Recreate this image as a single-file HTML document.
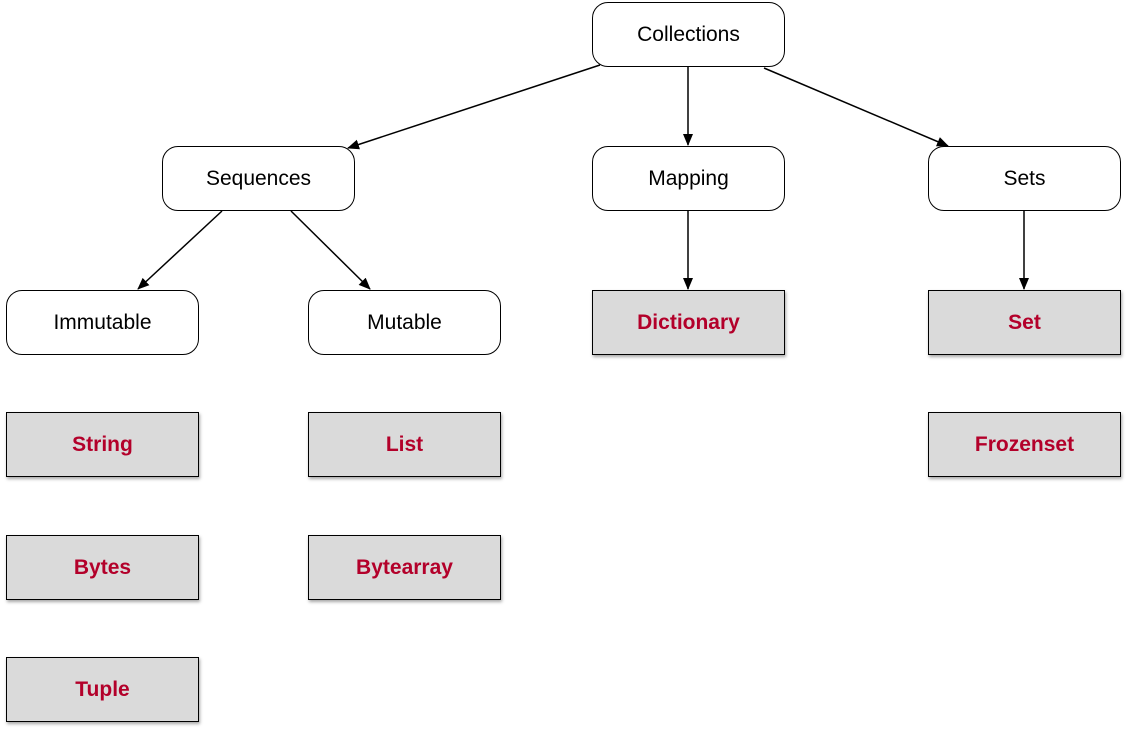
<!DOCTYPE html>
<html><head><style>
body{margin:0;width:1126px;height:730px;background:#fff;position:relative;overflow:hidden;font-family:"Liberation Sans",sans-serif}
.n{position:absolute;width:190px;height:62px;border:1.5px solid #000;display:flex;align-items:center;justify-content:center;font-size:21px;box-sizing:border-box}
.r{border-radius:16px;background:#fff;color:#000}
.s{background:#dadada;color:#b3002a;font-weight:bold;box-shadow:1px 2px 3px rgba(0,0,0,.35)}
svg{position:absolute;left:0;top:0}
</style></head><body>
<svg width="1126" height="730">
<defs><marker id="a" markerWidth="12" markerHeight="12" refX="11" refY="5" orient="auto" markerUnits="userSpaceOnUse"><path d="M0,0 L12,5 L0,10 z" fill="#000"/></marker></defs>
<g stroke="#000" stroke-width="1.5" marker-end="url(#a)">
<line x1="600" y1="65" x2="348" y2="148"/>
<line x1="688" y1="66" x2="688" y2="145"/>
<line x1="764" y1="68" x2="948" y2="146"/>
<line x1="222" y1="211" x2="138" y2="289"/>
<line x1="291" y1="211" x2="370" y2="289"/>
<line x1="688" y1="210" x2="688" y2="289"/>
<line x1="1024" y1="210" x2="1024" y2="289"/>
</g></svg>
<div class="n r" style="left:592px;top:2px;width:193px;height:65px">Collections</div>
<div class="n r" style="left:162px;top:146px;width:193px;height:65px">Sequences</div>
<div class="n r" style="left:592px;top:146px;width:193px;height:65px">Mapping</div>
<div class="n r" style="left:928px;top:146px;width:193px;height:65px">Sets</div>
<div class="n r" style="left:6px;top:290px;width:193px;height:65px">Immutable</div>
<div class="n r" style="left:308px;top:290px;width:193px;height:65px">Mutable</div>
<div class="n s" style="left:592px;top:290px;width:193px;height:65px">Dictionary</div>
<div class="n s" style="left:928px;top:290px;width:193px;height:65px">Set</div>
<div class="n s" style="left:6px;top:412px;width:193px;height:65px">String</div>
<div class="n s" style="left:308px;top:412px;width:193px;height:65px">List</div>
<div class="n s" style="left:928px;top:412px;width:193px;height:65px">Frozenset</div>
<div class="n s" style="left:6px;top:535px;width:193px;height:65px">Bytes</div>
<div class="n s" style="left:308px;top:535px;width:193px;height:65px">Bytearray</div>
<div class="n s" style="left:6px;top:657px;width:193px;height:65px">Tuple</div>
</body></html>
